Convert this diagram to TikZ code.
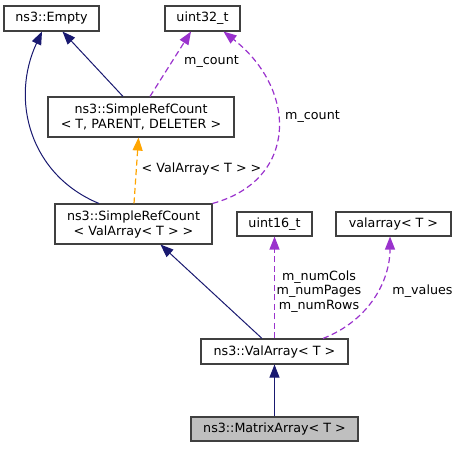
\documentclass[tikz,border=0pt]{standalone}
\usepackage{fontspec}
\setmainfont{DejaVu Sans}
\usetikzlibrary{arrows.meta}
\definecolor{inhblue}{HTML}{191970}
\definecolor{usepurple}{HTML}{9A32CD}
\definecolor{tmplorange}{HTML}{FFA500}
\definecolor{boxborder}{HTML}{404040}
\tikzset{
  cls/.style={draw=boxborder, line width=1.1pt, fill=white, inner sep=0pt, align=center,
    font=\fontsize{12.7}{15}\selectfont},
  lbl/.style={inner sep=0pt, align=center, font=\fontsize{12.7}{14.5}\selectfont},
  tip/.style={-{Triangle[length=13pt,width=10pt]}},
  inh/.style={tip, draw=inhblue, line width=1pt},
  usage/.style={tip, draw=usepurple, line width=1.2pt, dash pattern=on 6pt off 3.5pt},
  tmpl/.style={tip, draw=tmplorange, line width=1.2pt, dash pattern=on 6pt off 3.5pt},
}
\begin{document}
\begin{tikzpicture}[x=1pt,y=-1pt]
\useasboundingbox (0,0) rectangle (460,448);
\node[cls, minimum width=95pt, minimum height=25pt] (empty) at (51.5,18.5) {ns3::Empty};
\node[cls, minimum width=75pt, minimum height=25pt] (u32) at (202.5,18.5) {uint32\_t};
\node[cls, minimum width=186pt, minimum height=40pt] (srcT) at (141,117) {ns3::SimpleRefCount\\\textless{} T, PARENT, DELETER \textgreater};
\node[cls, minimum width=157pt, minimum height=40pt] (srcV) at (133.5,224) {ns3::SimpleRefCount\\\textless{} ValArray\textless{} T \textgreater{} \textgreater};
\node[cls, minimum width=75pt, minimum height=24pt] (u16) at (274.5,224) {uint16\_t};
\node[cls, minimum width=115pt, minimum height=24pt] (va) at (393.5,224) {valarray\textless{} T \textgreater};
\node[cls, minimum width=147pt, minimum height=25pt] (val) at (274.5,351.5) {ns3::ValArray\textless{} T \textgreater};
\node[cls, minimum width=167pt, minimum height=24pt, fill={rgb,255:red,191;green,191;blue,191}] (mat) at (274.5,429) {ns3::MatrixArray\textless{} T \textgreater};

\draw[inh] ([xshift=-18pt]srcT.north) -- ([xshift=11pt]empty.south);
\draw[inh] ([xshift=-34.5pt]srcV.north) .. controls (30,175) and (10,100) .. ([xshift=-9.5pt]empty.south);
\draw[usage] ([xshift=9pt]srcT.north) -- ([xshift=-11.5pt]u32.south);
\draw[usage] (srcV.north east) .. controls (298,180) and (298,90) .. ([xshift=21pt]u32.south);
\draw[tmpl] ([xshift=0.5pt]srcV.north) -- ([xshift=-2.5pt]srcT.south);
\draw[inh] ([xshift=-12.5pt]val.north) -- ([xshift=27pt]srcV.south);
\draw[usage] (val.north) -- (u16.south);
\draw[usage] ([xshift=48.5pt]val.north) .. controls (370,320) and (390,280) .. ([xshift=-3.5pt]va.south);
\draw[inh] (mat.north) -- (val.south);

\node[lbl] (l1) at (211.5,62) {m\_count};
\node[lbl] (l2) at (312.5,117) {m\_count};
\node[lbl] (l3) at (201.5,169) {\textless{} ValArray\textless{} T \textgreater{} \textgreater};
\node[lbl] (l4) at (319,291.5) {m\_numCols\\m\_numPages\\m\_numRows};
\node[lbl] (l5) at (422.5,291) {m\_values};
\end{tikzpicture}
\end{document}
